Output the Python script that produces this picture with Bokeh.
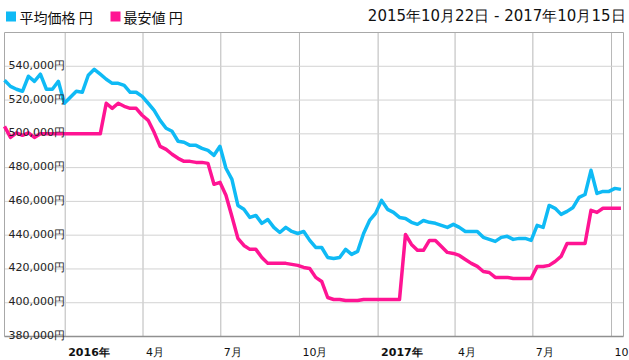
import datetime as dt
from bokeh.plotting import figure
from bokeh.models import Range1d
from bokeh.core.properties import value
from bokeh.embed import file_html
from bokeh.resources import INLINE

# ---------------- data ----------------
start = dt.datetime(2015, 10, 22)
end = dt.datetime(2017, 10, 15)
dates = [start + dt.timedelta(days=7 * i) for i in range(104)]

avg_price = [
    531700, 528100, 526400, 525200, 534100, 531100, 535300, 526400, 526400, 531100,
    518100, 521600, 525200, 524600, 534700, 538200, 535300, 532300, 529900, 529900,
    528700, 524600, 524600, 522200, 518100, 513900, 508000, 503300, 501500, 495600,
    495000, 493200, 493200, 491400, 490200, 487300, 492600, 479600, 473000, 457600,
    455300, 450500, 451700, 447000, 449300, 444600, 441600, 444600, 442200, 441000,
    442200, 436900, 432700, 432700, 426800, 426200, 426800, 431600, 428600, 430400,
    441000, 448700, 452900, 460600, 455300, 453500, 450500, 449900, 447600, 446400,
    448700, 447600, 447000, 445800, 444600, 446400, 444600, 442200, 442200, 442200,
    438700, 437500, 436300, 438700, 439300, 437500, 438100, 438100, 436900, 445800,
    444600, 457600, 455900, 452300, 454100, 456400, 462400, 464100, 478400, 464700,
    465900, 465900, 467700, 467100,
]

min_price = [
    504400, 497900, 500600, 499100, 500600, 497900, 500000, 500000, 500000, 500000,
    500000, 500000, 500000, 500000, 500000, 500000, 500000, 518100, 515100, 518100,
    516300, 515100, 515100, 511000, 508000, 500900, 492600, 490800, 487900, 485500,
    483700, 483700, 483100, 483100, 482500, 470100, 471300, 463600, 451100, 438100,
    433900, 431600, 431600, 426800, 423300, 423300, 423300, 423300, 422700, 422100,
    420900, 420300, 415000, 412600, 403100, 401900, 401900, 401300, 401300, 401300,
    401900, 401900, 401900, 401900, 401900, 401900, 401900, 440400, 434500, 431000,
    431000, 436900, 436900, 433300, 429800, 429200, 428000, 425600, 423300, 421500,
    418500, 417900, 415000, 415000, 415000, 414400, 414400, 414400, 414400, 421500,
    421500, 422100, 424400, 427400, 435100, 435100, 435100, 435100, 454700, 453500,
    455900, 455900, 455900, 455900,
]

y_ticks = [380000, 400000, 420000, 440000, 460000, 480000, 500000, 520000, 540000]
y_labels = ["380,000円", "400,000円", "420,000円", "440,000円", "460,000円",
            "480,000円", "500,000円", "520,000円", "540,000円"]

x_ticks = [dt.datetime(2016, 1, 1), dt.datetime(2016, 4, 1), dt.datetime(2016, 7, 1),
           dt.datetime(2016, 10, 1), dt.datetime(2017, 1, 1), dt.datetime(2017, 4, 1),
           dt.datetime(2017, 7, 1), dt.datetime(2017, 10, 1)]
x_labels = ["2016年", "4月", "7月", "10月", "2017年", "4月", "7月", "10月"]
x_bold = [True, False, False, False, True, False, False, False]

series_names = ["平均価格 円", "最安値 円"]
period_text = "2015年10月22日 - 2017年10月15日"

BLUE = "#0fbaf5"
PINK = "#ff1493"

# ---------------- layout helpers ----------------
Y0, Y1 = 380000, 560000
W, H = 629, 360
ML, MR, MT, MB = 4, 6, 32, 24
FW, FH = W - ML - MR, H - MT - MB


def ms(d):
    return (d - dt.datetime(1970, 1, 1)).total_seconds() * 1000.0


X0, X1 = ms(start), ms(end)
MS_PX = (X1 - X0) / FW
V_PX = (Y1 - Y0) / FH


def xdata(px):
    return X0 + (px - ML) * MS_PX


def ydata(py):
    return Y0 + (H - MB - py) * V_PX


p = figure(width=W, height=H, x_axis_type="datetime",
           x_range=Range1d(xdata(0), xdata(W)), y_range=Range1d(ydata(H), ydata(0)),
           output_backend="svg", toolbar_location=None)
p.min_border_left = 0
p.min_border_right = 0
p.min_border_top = 0
p.min_border_bottom = 0
p.xaxis.visible = False
p.yaxis.visible = False
p.xgrid.visible = False
p.ygrid.visible = False
p.outline_line_color = None
p.background_fill_color = "white"
p.border_fill_color = "white"

# grid lines (inside the plot area only)
xt = [ms(d) for d in x_ticks]
p.segment(x0=xt, y0=[Y0] * len(xt), x1=xt, y1=[Y1] * len(xt),
          line_color="#b8b8b8", line_width=1)
yt = y_ticks[1:]
p.segment(x0=[X0] * len(yt), y0=yt, x1=[X1] * len(yt), y1=yt,
          line_color="#d2d2d2", line_width=1)
# plot border
p.segment(x0=[X0, X0, X1], y0=[Y1, Y0, Y0], x1=[X1, X0, X1], y1=[Y1, Y1, Y1],
          line_color="#a8a8a8", line_width=1)
p.segment(x0=[X0], y0=[Y0], x1=[X1], y1=[Y0], line_color="#909090", line_width=1.5)

p.line(dates, min_price, line_color=PINK, line_width=3.5, line_join="round")
p.line(dates, avg_price, line_color=BLUE, line_width=3.5, line_join="round")

FONT = value("DejaVu Sans")

p.text(x=[X0] * len(y_ticks), y=[v + V_PX for v in y_ticks], text=y_labels,
       x_offset=4, text_font=FONT, text_font_size="11px", text_color="#222222",
       text_align="left", text_baseline="alphabetic")

nb = [(ms(d), t) for d, t, b in zip(x_ticks, x_labels, x_bold) if not b]
bb = [(ms(d), t) for d, t, b in zip(x_ticks, x_labels, x_bold) if b]
p.text(x=[a for a, _ in nb], y=[ydata(352)] * len(nb), text=[t for _, t in nb],
       x_offset=3, text_font=FONT, text_font_size="11px", text_color="#111111",
       text_align="left", text_baseline="middle")
p.text(x=[a for a, _ in bb], y=[ydata(352)] * len(bb), text=[t for _, t in bb],
       x_offset=3, text_font=FONT, text_font_size="11px", text_color="#111111",
       text_font_style="bold", text_align="left", text_baseline="middle")

# legend
p.scatter(x=[xdata(10.5)], y=[ydata(16)], marker="square", size=10,
          fill_color=BLUE, line_color=None)
p.scatter(x=[xdata(115)], y=[ydata(16)], marker="square", size=10,
          fill_color=PINK, line_color=None)
p.text(x=[xdata(19), xdata(123)], y=[ydata(16)] * 2, text=series_names,
       text_font=value("Noto Sans CJK JP"), text_font_size="14px", text_color="#111111",
       text_align="left", text_baseline="middle")

p.text(x=[xdata(625)], y=[ydata(15)], text=[period_text],
       text_font=FONT, text_font_size="15px", text_color="#111111",
       text_align="right", text_baseline="middle")

open("out.html", "w").write(file_html(p, INLINE))
